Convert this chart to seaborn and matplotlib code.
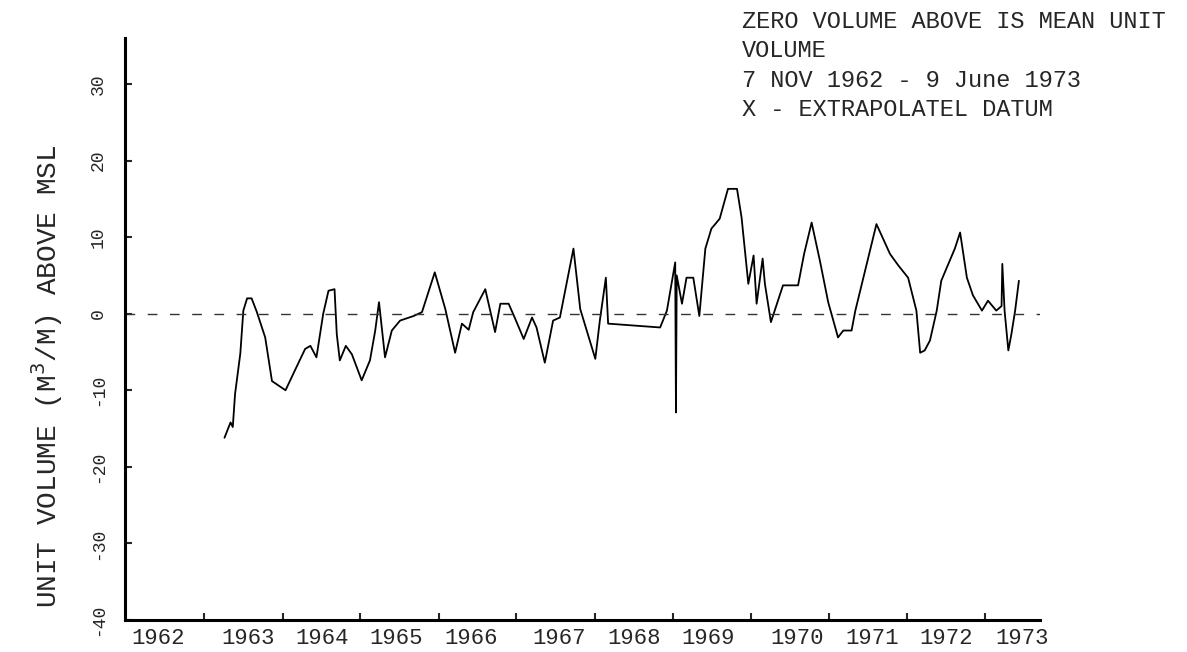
import pandas as pd
import matplotlib.pyplot as plt
import seaborn as sns

# Dados (ano decimal, volume unitario em m3/m)
anos = [1962.88, 1962.96, 1962.99, 1963.02, 1963.09, 1963.13, 1963.18, 1963.24,
        1963.31, 1963.42, 1963.51, 1963.69, 1963.80, 1963.95, 1964.02, 1964.10,
        1964.19, 1964.26, 1964.34, 1964.37, 1964.41, 1964.49, 1964.57, 1964.70,
        1964.81, 1964.88, 1964.93, 1965.01, 1965.10, 1965.21, 1965.39, 1965.50,
        1965.67, 1965.81, 1965.94, 1966.03, 1966.12, 1966.18, 1966.34, 1966.47,
        1966.54, 1966.65, 1966.73, 1966.85, 1966.96, 1967.02, 1967.13, 1967.24,
        1967.33, 1967.51, 1967.60, 1967.80, 1967.86, 1967.94, 1967.97, 1968.66,
        1968.75, 1968.86, 1968.87, 1968.88, 1968.95, 1969.01, 1969.10, 1969.18,
        1969.26, 1969.34, 1969.45, 1969.56, 1969.68, 1969.74, 1969.83, 1969.90,
        1969.94, 1970.02, 1970.05, 1970.13, 1970.29, 1970.49, 1970.57, 1970.67,
        1970.78, 1970.89, 1971.02, 1971.09, 1971.20, 1971.25, 1971.53, 1971.71,
        1971.82, 1971.95, 1972.06, 1972.11, 1972.17, 1972.24, 1972.33, 1972.39,
        1972.57, 1972.64, 1972.73, 1972.81, 1972.93, 1973.01, 1973.12, 1973.19,
        1973.20, 1973.23, 1973.28, 1973.32, 1973.37, 1973.42]
volume = [-16.2, -14.2, -14.8, -10.5, -5.2, 0.4, 2.0, 2.0,
          0.2, -3.1, -8.8, -10.0, -7.7, -4.6, -4.2, -5.7,
          0.0, 3.0, 3.2, -2.7, -6.1, -4.2, -5.3, -8.7,
          -6.1, -2.2, 1.5, -5.7, -2.2, -0.9, -0.3, 0.2,
          5.4, 0.6, -5.1, -1.3, -2.1, 0.2, 3.2, -2.4,
          1.3, 1.3, -0.5, -3.3, -0.5, -1.8, -6.4, -0.9,
          -0.5, 8.5, 0.6, -5.9, -0.9, 4.7, -1.3, -1.8,
          0.4, 6.7, -12.9, 5.0, 1.3, 4.7, 4.7, -0.3,
          8.5, 11.1, 12.4, 16.3, 16.3, 12.6, 3.9, 7.6,
          1.3, 7.2, 3.9, -1.1, 3.7, 3.7, 7.8, 11.9,
          6.9, 1.5, -3.1, -2.2, -2.2, 0.4, 11.7, 7.8,
          6.3, 4.7, 0.4, -5.1, -4.8, -3.5, 0.4, 4.3,
          8.5, 10.6, 4.7, 2.4, 0.4, 1.7, 0.4, 1.0,
          6.5, 0.4, -4.8, -2.7, 0.4, 4.3]

ticks_x = [1962.61, 1963.65, 1964.68, 1965.72, 1966.75, 1967.79,
           1968.83, 1969.86, 1970.90, 1971.94, 1972.97]
rotulos_anos = ['1962', '1963', '1964', '1965', '1966', '1967',
                '1968', '1969', '1970', '1971', '1972', '1973']
posicoes_rotulos = [1962.00, 1963.19, 1964.18, 1965.16, 1966.15, 1967.32,
                    1968.31, 1969.30, 1970.48, 1971.47, 1972.45, 1973.46]
ticks_y = [-40, -30, -20, -10, 0, 10, 20, 30]

notas = ['ZERO VOLUME ABOVE IS MEAN UNIT',
         'VOLUME',
         '7 NOV 1962 - 9 June 1973',
         'X - EXTRAPOLATEL DATUM']

df = pd.DataFrame({'ano': anos, 'volume': volume})

sns.set_style('ticks')
plt.rcParams['font.family'] = ['Liberation Mono', 'DejaVu Sans']

fig = plt.figure(figsize=(11.87, 6.52), dpi=100)
ax = fig.add_axes([125 / 1187, 32 / 652, 915 / 1187, 582 / 652])

sns.lineplot(data=df, x='ano', y='volume', ax=ax, color='black',
             lw=1.3, sort=False, estimator=None)
ax.axhline(0, color='#333333', lw=1, ls=(0, (7, 9)))

ax.set_xlim(1961.56, 1973.70)
ax.set_ylim(-40, 36)

# eixos
for lado in ['top', 'right']:
    ax.spines[lado].set_visible(False)
for lado in ['left', 'bottom']:
    ax.spines[lado].set_linewidth(2.2)
    ax.spines[lado].set_color('black')

ax.set_xticks(ticks_x)
ax.set_xticklabels([])
ax.tick_params(axis='x', direction='in', length=5, width=1.5)
for pos, rot in zip(posicoes_rotulos, rotulos_anos):
    ax.text(pos, -0.031, rot, transform=ax.get_xaxis_transform(),
            ha='center', va='center', fontsize=16)

ax.set_yticks(ticks_y)
ax.set_yticklabels([str(t) for t in ticks_y], rotation=90, va='center', fontsize=13)
ax.tick_params(axis='y', direction='in', length=5, width=1.5, pad=13)

ax.set_xlabel('')
ax.set_ylabel('')
fig.text(47 / 1187, 1 - 376 / 652, 'UNIT VOLUME (M$^3$/M) ABOVE MSL',
         rotation=90, ha='center', va='center', fontsize=20)

for i, linha in enumerate(notas):
    fig.text(742 / 1187, 1 - (28 + 29.3 * i) / 652, linha,
             ha='left', va='baseline', fontsize=17)

fig.savefig('out.png', dpi=100)
